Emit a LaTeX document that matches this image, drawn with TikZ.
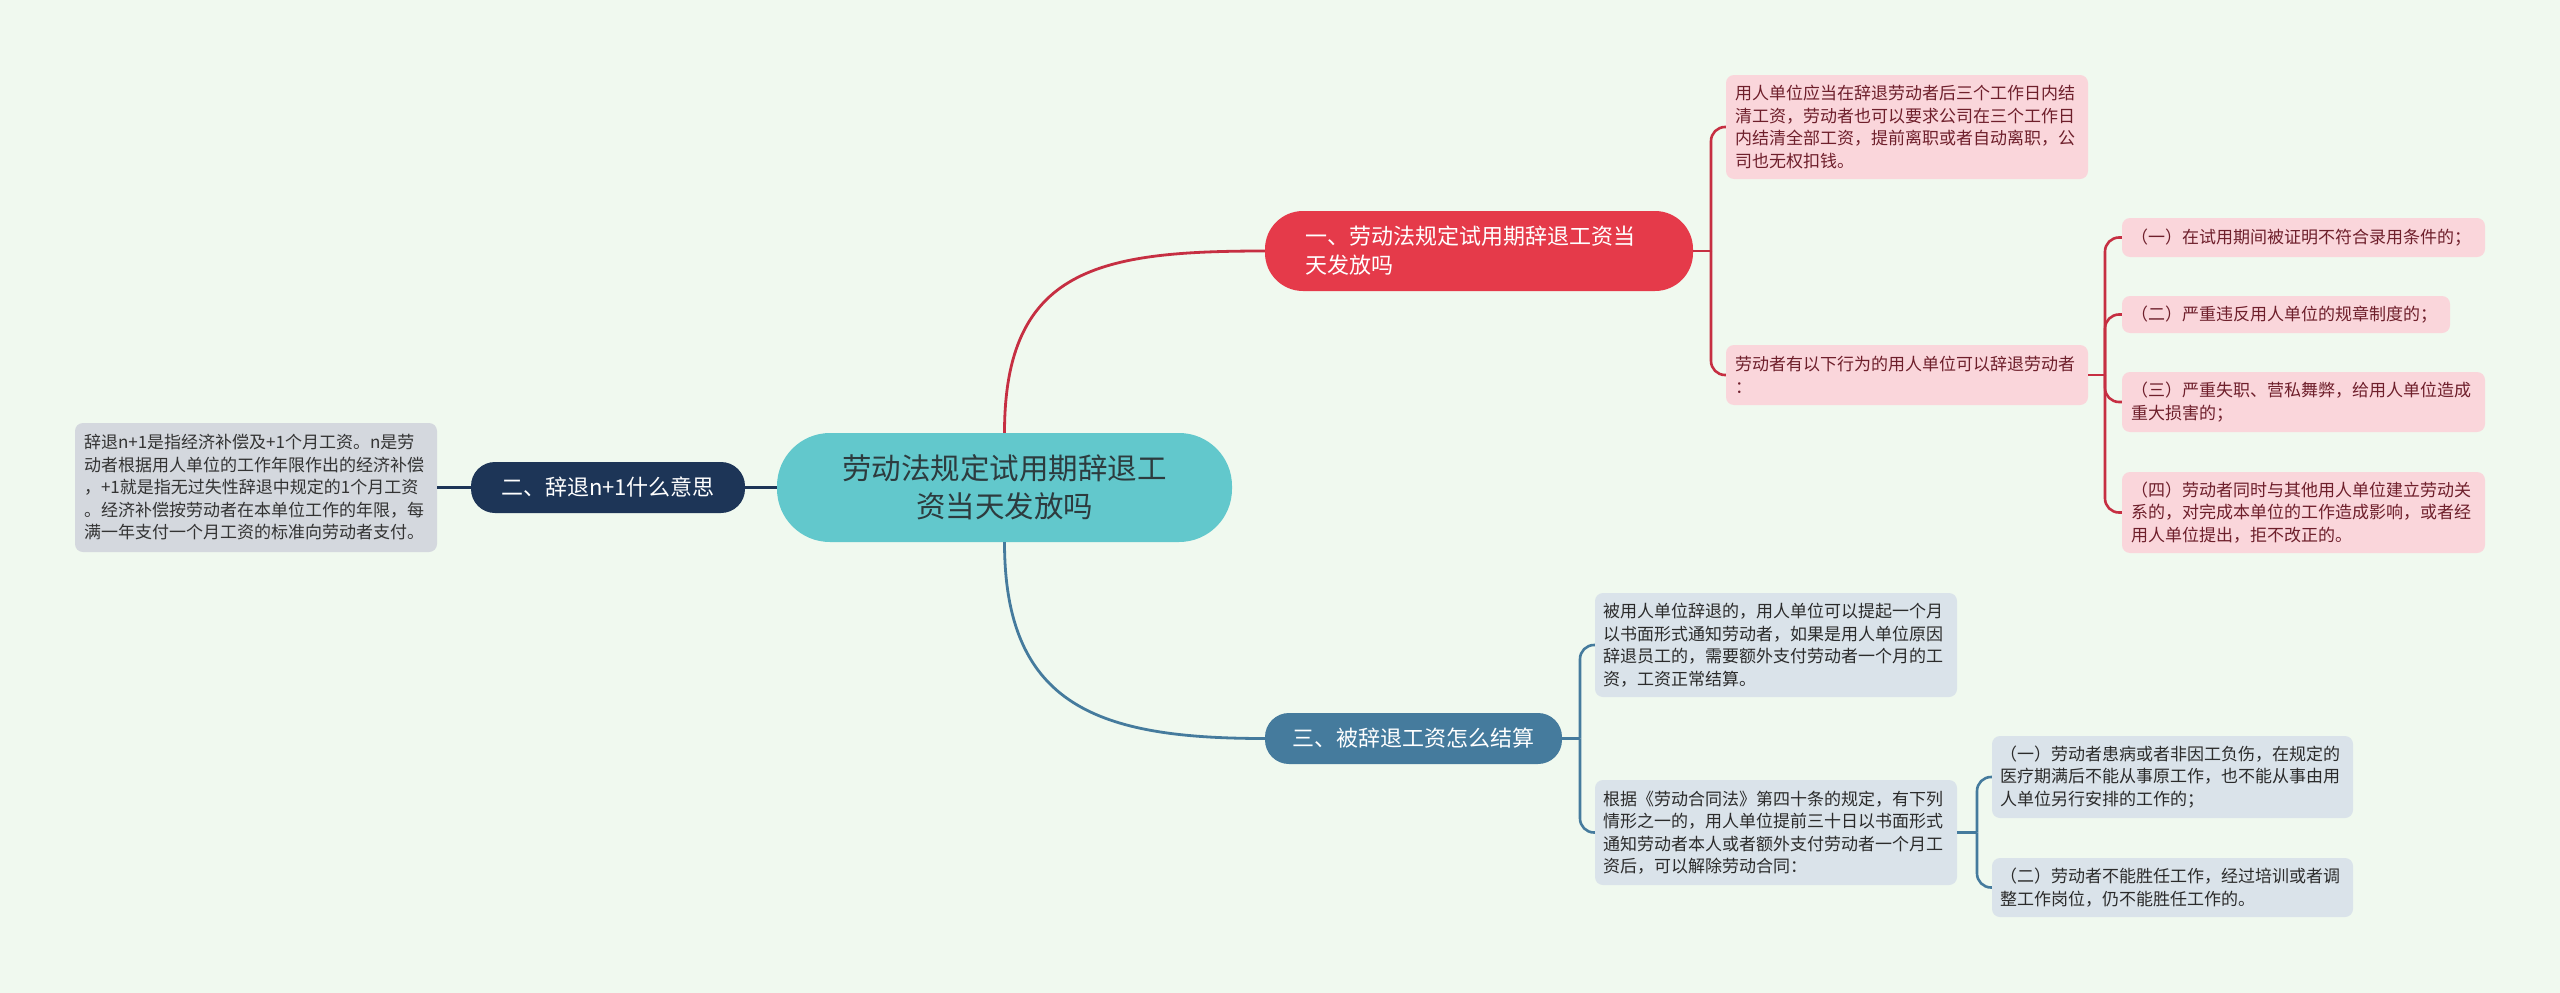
\documentclass[tikz,border=0pt]{standalone}
\usepackage{fontspec}
\setmainfont{Noto Sans CJK SC}
\definecolor{bg}{HTML}{F0F9EF}
\definecolor{redmain}{HTML}{E53A4A}
\definecolor{redline}{HTML}{C62F42}
\definecolor{pinkfill}{HTML}{FAD6DB}
\definecolor{pinktext}{HTML}{6E1F2B}
\definecolor{teal}{HTML}{62C8CC}
\definecolor{tealtext}{HTML}{2D3B3E}
\definecolor{navy}{HTML}{1D3557}
\definecolor{steel}{HTML}{457B9D}
\definecolor{bluefill}{HTML}{DAE3EA}
\definecolor{bluetext}{HTML}{2B2B2B}
\definecolor{grayfill}{HTML}{D4D8DE}
\definecolor{graytext}{HTML}{333333}
\tikzset{
  smallfont/.style={font=\fontsize{17}{22.5}\selectfont},
  leafbox/.style={smallfont, rounded corners=8pt, inner xsep=0pt, inner ysep=0pt, align=left},
  pinkbox/.style={leafbox, fill=pinkfill, text=pinktext},
  bluebox/.style={leafbox, fill=bluefill, text=bluetext},
  graybox/.style={leafbox, fill=grayfill, text=graytext},
  topicbox/.style={inner sep=0pt, text=white, font=\fontsize{22}{29}\selectfont},
  redcurve/.style={draw=redline, line width=2.8pt},
  redbrk/.style={draw=redline, line width=2.6pt, rounded corners=14pt},
  bluecurve/.style={draw=steel, line width=2.8pt},
  bluebrk/.style={draw=steel, line width=2.6pt, rounded corners=14pt},
  navyline/.style={draw=navy, line width=2.8pt},
}
\begin{document}
\begin{tikzpicture}[x=1pt,y=-1pt]
\fill[bg] (0,0) rectangle (2560,993);
\useasboundingbox (0,0) rectangle (2560,993);

% central node
\node[fill=teal, rounded corners=53pt, minimum width=455pt, minimum height=109pt, inner sep=0pt,
      text=tealtext, align=center, font=\fontsize{29.5}{38}\selectfont] (c) at (1004.5,487.5)
  {劳动法规定试用期辞退工\\资当天发放吗};

% topic 1
\node[topicbox, fill=redmain, rounded corners=38pt, minimum width=428pt, minimum height=80pt,
      text width=348pt, align=left] (n1) at (1479,251)
  {一、劳动法规定试用期辞退工资当\\天发放吗};

% topic 2
\node[topicbox, fill=navy, rounded corners=24pt, minimum width=274pt, minimum height=51pt] (n2) at (608,487.5)
  {二、辞退n+1什么意思};

% topic 3
\node[topicbox, fill=steel, rounded corners=24pt, minimum width=297pt, minimum height=51pt] (n3) at (1413.5,738.5)
  {三、被辞退工资怎么结算};

% leaves of topic 1
\node[pinkbox, minimum width=362pt, minimum height=104pt, text width=344pt] (r1) at (1907,127)
  {用人单位应当在辞退劳动者后三个工作日内结\\清工资，劳动者也可以要求公司在三个工作日\\内结清全部工资，提前离职或者自动离职，公\\司也无权扣钱。};
\node[pinkbox, minimum width=362pt, minimum height=60pt, text width=344pt] (r2) at (1907,375)
  {劳动者有以下行为的用人单位可以辞退劳动者\\：};
\node[pinkbox, minimum width=363pt, minimum height=39pt, text width=345pt] (a1) at (2303.5,237.5)
  {（一）在试用期间被证明不符合录用条件的；};
\node[pinkbox, minimum width=328pt, minimum height=37pt, text width=310pt] (a2) at (2286,314.5)
  {（二）严重违反用人单位的规章制度的；};
\node[pinkbox, minimum width=363pt, minimum height=60pt, text width=345pt] (a3) at (2303.5,402)
  {（三）严重失职、营私舞弊，给用人单位造成\\重大损害的；};
\node[pinkbox, minimum width=363pt, minimum height=81pt, text width=345pt] (a4) at (2303.5,512.5)
  {（四）劳动者同时与其他用人单位建立劳动关\\系的，对完成本单位的工作造成影响，或者经\\用人单位提出，拒不改正的。};

% leaf of topic 2
\node[graybox, minimum width=362pt, minimum height=129pt, text width=344pt] (l1) at (256,487.5)
  {辞退n+1是指经济补偿及+1个月工资。n是劳\\动者根据用人单位的工作年限作出的经济补偿\\，+1就是指无过失性辞退中规定的1个月工资\\。经济补偿按劳动者在本单位工作的年限，每\\满一年支付一个月工资的标准向劳动者支付。};

% leaves of topic 3
\node[bluebox, minimum width=362pt, minimum height=104pt, text width=346pt] (b1) at (1776,645)
  {被用人单位辞退的，用人单位可以提起一个月\\以书面形式通知劳动者，如果是用人单位原因\\辞退员工的，需要额外支付劳动者一个月的工\\资，工资正常结算。};
\node[bluebox, minimum width=362pt, minimum height=105pt, text width=346pt] (b2) at (1776,832.5)
  {根据《劳动合同法》第四十条的规定，有下列\\情形之一的，用人单位提前三十日以书面形式\\通知劳动者本人或者额外支付劳动者一个月工\\资后，可以解除劳动合同：};
\node[bluebox, minimum width=361pt, minimum height=82pt, text width=345pt] (c1) at (2172.5,777)
  {（一）劳动者患病或者非因工负伤，在规定的\\医疗期满后不能从事原工作，也不能从事由用\\人单位另行安排的工作的；};
\node[bluebox, minimum width=361pt, minimum height=59pt, text width=345pt] (c2) at (2172.5,887.5)
  {（二）劳动者不能胜任工作，经过培训或者调\\整工作岗位，仍不能胜任工作的。};

% connectors
\coordinate (j1) at (1711,251);
\coordinate (j2) at (2105,375);
\coordinate (j3) at (1580,738.5);
\coordinate (j4) at (1977,832.5);

\draw[redcurve] (c.north) .. controls +(0,-165) and +(-165,0) .. (n1.west);
\draw[bluecurve] (c.south) .. controls +(0,165) and +(-165,0) .. (n3.west);
\draw[navyline] (l1.east) -- (n2.west);
\draw[navyline] (n2.east) -- (c.west);

\draw[redbrk] (n1.east) -- (j1);
\draw[redbrk] (j1) |- (r1.west);
\draw[redbrk] (j1) |- (r2.west);
\draw[redbrk] (r2.east) -- (j2);
\draw[redbrk] (j2) |- (a1.west);
\draw[redbrk] (j2) |- (a2.west);
\draw[redbrk] (j2) |- (a3.west);
\draw[redbrk] (j2) |- (a4.west);

\draw[bluebrk] (n3.east) -- (j3);
\draw[bluebrk] (j3) |- (b1.west);
\draw[bluebrk] (j3) |- (b2.west);
\draw[bluebrk] (b2.east) -- (j4);
\draw[bluebrk] (j4) |- (c1.west);
\draw[bluebrk] (j4) |- (c2.west);
\end{tikzpicture}
\end{document}
